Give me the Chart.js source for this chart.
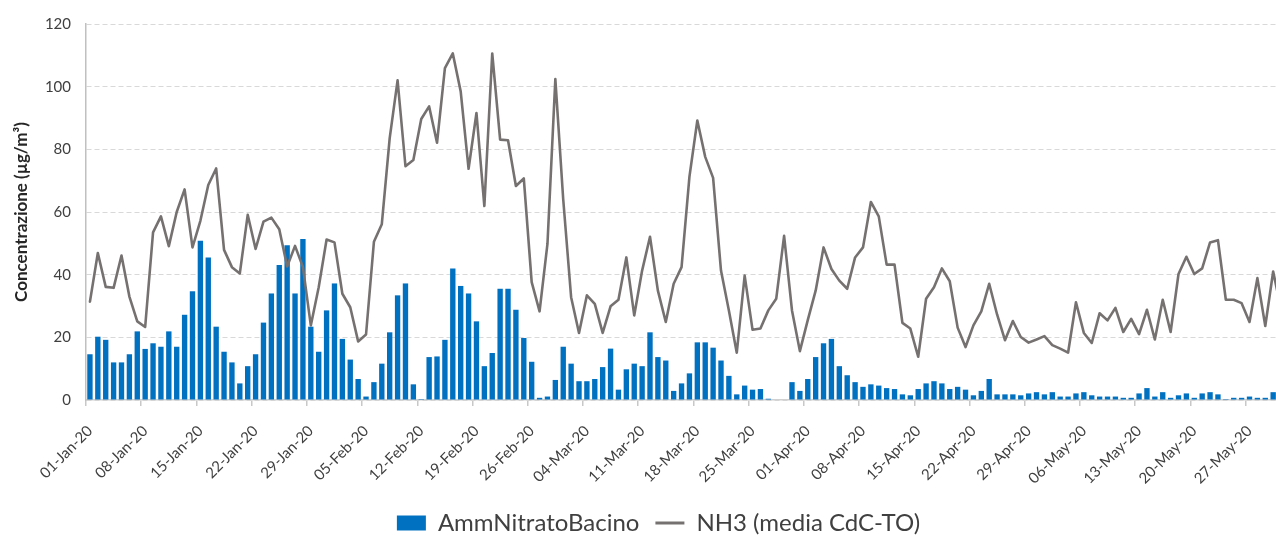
<!DOCTYPE html>
<html><head><meta charset="utf-8">
<script src="https://cdn.jsdelivr.net/npm/chart.js@4"></script>
<style>
html,body{margin:0;padding:0;overflow:hidden;background:#fff;width:1276px;height:535px}
#wrap{position:relative;width:1300px;height:535px}
</style>
</head><body><div id="wrap"><canvas id="c" width="1300" height="535"></canvas></div>
<script>
const months = [['Jan',31],['Feb',29],['Mar',31],['Apr',30],['May',31]];
const categories = [];
for (const [m, n] of months) for (let d = 1; d <= n; d++) categories.push(String(d).padStart(2,'0') + '-' + m + '-20');

const tickLabels = ['01-Jan-20','08-Jan-20','15-Jan-20','22-Jan-20','29-Jan-20','05-Feb-20','12-Feb-20','19-Feb-20','26-Feb-20','04-Mar-20','11-Mar-20','18-Mar-20','25-Mar-20','01-Apr-20','08-Apr-20','15-Apr-20','22-Apr-20','29-Apr-20','06-May-20','13-May-20','20-May-20','27-May-20'];

const ammNitratoJan = [14.6,20.2,19.2,12.0,12.0,14.6,21.9,16.3,18.1,17.0,21.9,17.0,27.2,34.7,50.8,45.5,23.4,15.4,12.0,5.3,10.8,14.6,24.7,34.0,43.1,49.4,34.0,51.4,23.4,15.4,28.6];
const ammNitratoFeb = [37.2,19.5,12.9,6.7,1.1,5.7,11.6,21.6,33.4,37.2,5.0,0.3,13.7,13.9,19.2,42.0,36.4,34.0,25.1,10.8,15.0,35.5,35.5,28.8,19.8,12.2,0.7,1.1,6.4];
const ammNitratoMar = [17.0,11.6,6.0,6.0,6.7,10.5,16.4,3.3,9.8,11.6,10.8,21.6,13.7,12.6,2.9,5.3,8.5,18.4,18.4,16.7,12.6,7.7,1.8,4.6,3.3,3.5,0.4,0,0,5.7,2.9];
const ammNitratoApr = [6.7,13.7,18.1,19.5,10.8,7.9,5.7,4.2,5.0,4.6,3.8,3.5,1.8,1.5,3.5,5.3,6.0,5.3,3.5,4.2,3.3,1.5,2.9,6.7,1.8,1.8,1.8,1.5,2.1,2.5];
const ammNitratoMay = [1.8,2.5,1.1,1.1,2.1,2.5,1.5,1.1,1.1,1.1,0.7,0.7,2.1,3.8,1.1,2.5,0.7,1.5,2.1,0.7,2.1,2.5,1.8,0.3,0.7,0.7,1.1,0.7,0.7,2.5,1.5];

const nh3Jan = [31.4,46.9,36.1,35.8,46.1,33.0,25.1,23.3,53.5,58.6,49.1,60.0,67.2,48.7,57.2,68.6,73.9,47.9,42.4,40.4,59.1,48.2,56.9,58.2,54.5,42.6,49.2,42.4,23.8,36.0,51.2];
const nh3Feb = [50.3,33.9,29.6,18.7,20.9,50.5,56.1,83.6,102.0,74.6,76.6,89.7,93.7,82.1,105.9,110.6,98.5,73.8,91.6,61.9,110.6,83.1,82.9,68.3,70.7,37.6,28.3,49.8,102.4];
const nh3Mar = [64.0,32.8,21.4,33.4,30.7,21.4,29.9,32.0,45.5,27.0,41.3,52.1,34.9,24.9,37.1,42.4,71.3,89.2,77.6,70.9,41.3,28.6,15.1,39.7,22.4,22.8,28.6,32.3,52.4,28.6,15.6];
const nh3Apr = [25.5,34.9,48.7,41.8,38.1,35.5,45.5,48.7,63.2,58.6,43.2,43.2,24.6,22.8,13.8,32.3,36.0,42.0,37.9,23.1,16.9,23.8,28.3,37.1,27.3,19.1,25.2,20.1,18.3,19.3];
const nh3May = [20.4,17.5,16.4,15.1,31.2,21.4,18.2,27.7,25.4,29.4,21.7,25.9,21.0,28.8,19.3,32.0,21.7,40.2,45.7,40.2,42.0,50.3,51.0,32.0,32.0,30.9,24.9,38.9,23.6,41.0,29.0];

const ammNitratoBacino = [...ammNitratoJan, ...ammNitratoFeb, ...ammNitratoMar, ...ammNitratoApr, ...ammNitratoMay];
const nh3MediaCdC = [...nh3Jan, ...nh3Feb, ...nh3Mar, ...nh3Apr, ...nh3May];

const FONT = 'Lato';
const legendShift = {
  id: 'legendShift',
  afterLayout(chart) {
    const l = chart.legend; const dx = 16, dy = 10;
    l.left += dx; l.right += dx; l.top += dy; l.bottom += dy;
  }
};

new Chart(document.getElementById('c'), {
  data: {
    labels: categories,
    datasets: [
      { type: 'bar', label: 'AmmNitratoBacino', data: ammNitratoBacino, backgroundColor: '#0070C0', borderWidth: 0, barPercentage: 0.68, categoryPercentage: 1, order: 1 },
      { type: 'line', label: 'NH3 (media CdC-TO)', data: nh3MediaCdC, borderColor: '#767171', backgroundColor: '#767171', borderWidth: 2.6, pointRadius: 0, tension: 0, fill: false, order: 0, borderJoinStyle: 'round', borderCapStyle: 'round' }
    ]
  },
  options: {
    responsive: false, animation: false, devicePixelRatio: 1,
    layout: { padding: { left: 0, right: 15, top: 22, bottom: 0 } },
    plugins: {
      tooltip: { enabled: false },
      legend: {
        position: 'bottom',
        labels: {
          usePointStyle: true, pointStyleWidth: 29, boxHeight: 15, padding: 16,
          font: { family: FONT, size: 24 }, color: '#404040',
          generateLabels(chart) {
            const items = Chart.defaults.plugins.legend.labels.generateLabels(chart);
            items.sort((a, b) => a.datasetIndex - b.datasetIndex);
            items.forEach(it => {
              if (it.datasetIndex === 0) { it.pointStyle = 'rect'; it.lineWidth = 0; it.fillStyle = '#0070C0'; }
              else { it.pointStyle = 'line'; it.lineWidth = 3; it.strokeStyle = '#767171'; }
            });
            return items;
          }
        }
      }
    },
    scales: {
      x: {
        grid: { display: true, drawOnChartArea: false, drawTicks: true, tickLength: 6, lineWidth: 1.5,
                color: c => (c.index % 7 === 0 ? '#C8C8C8' : 'rgba(0,0,0,0)') },
        border: { display: true, color: '#D0D0D0', width: 1.5 },
        ticks: { autoSkip: false, maxRotation: 45, minRotation: 45, padding: 16,
                 font: { family: FONT, size: 15 }, color: '#404040',
                 callback: (v, i) => (i % 7 === 0 ? tickLabels[i / 7] : '') },
        afterFit: s => {
          s.height = s.chart.height - s.chart.legend.height - 400;
          s.paddingLeft = 0; s.paddingRight = 0;
        }
      },
      y: {
        min: 0, max: 120,
        ticks: { stepSize: 20, padding: 15, font: { family: FONT, size: 15 }, color: '#404040' },
        grid: { color: '#D9D9D9', lineWidth: 1, drawTicks: false },
        border: { display: true, color: '#C0C0C0', width: 1.5, dash: [5, 3] },
        title: { display: true, text: 'Concentrazione (µg/m³)', font: { family: FONT, size: 17, weight: 'bold' }, color: '#262626', padding: { top: 11, bottom: 0 } },
        afterFit: s => { s.width = 86; }
      }
    }
  },
  plugins: [legendShift]
});
</script>
</body></html>
